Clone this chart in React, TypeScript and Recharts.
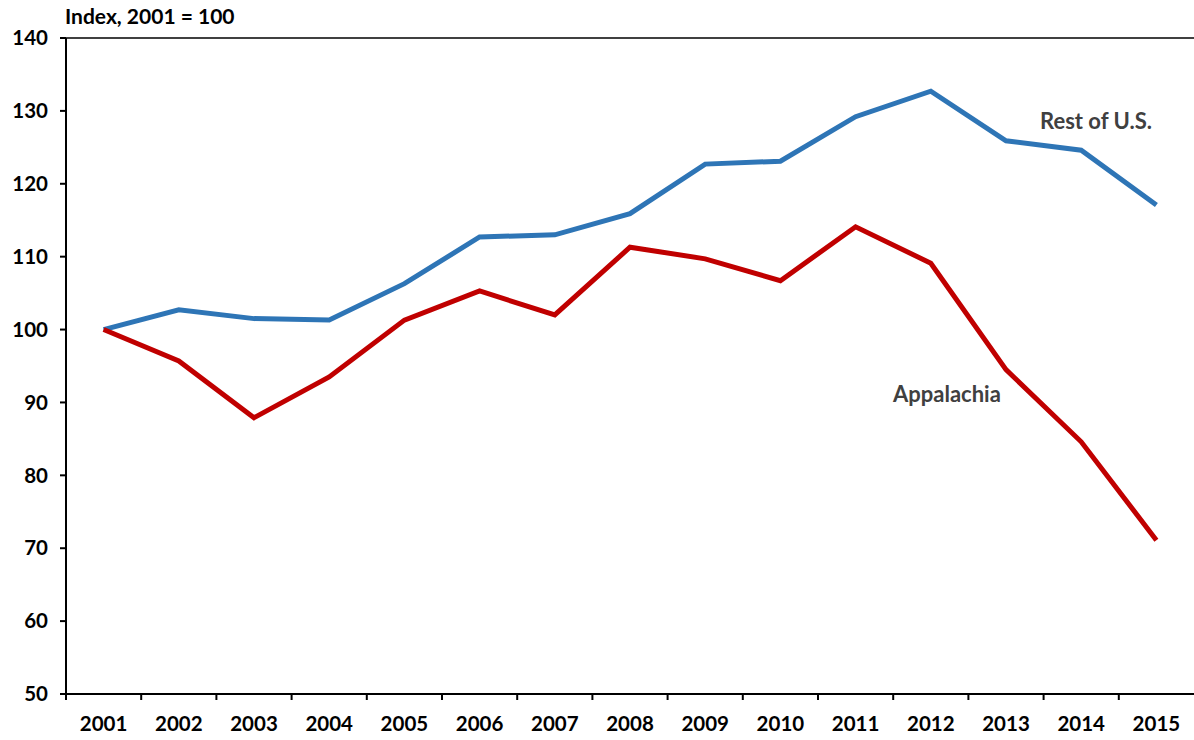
import { LineChart, Line, XAxis, YAxis, ReferenceLine } from "recharts"

const years = [
    "2001", "2002", "2003", "2004", "2005", "2006", "2007", "2008",
    "2009", "2010", "2011", "2012", "2013", "2014", "2015",
]
const restOfUS = [100, 102.7, 101.5, 101.3, 106.3, 112.7, 113.0, 115.9, 122.7, 123.1, 129.2, 132.7, 125.9, 124.6, 117.1]
const appalachia = [100, 95.7, 87.9, 93.5, 101.3, 105.3, 102.0, 111.3, 109.7, 106.7, 114.1, 109.1, 94.5, 84.6, 71.1]
const yTicks = [50, 60, 70, 80, 90, 100, 110, 120, 130, 140]

const FONT = "Lato, 'Open Sans', sans-serif"
const BLUE = "#2E75B6"
const RED = "#C00000"

const data = years.map((year, i) => ({
    year,
    rest: restOfUS[i],
    app: appalachia[i],
}))

// category label at band centre, tick mark at the band's left edge (Excel style)
const YearTick = (props: any) => {
    const { x, y, payload } = props
    const off = payload?.offset ?? 0
    return (
        <g>
            <line x1={x - off} x2={x - off} y1={y - 6} y2={y} stroke="#000" strokeWidth={2} />
            <text
                x={x}
                y={y + 31}
                textAnchor="middle"
                fontFamily={FONT}
                fontSize={20.5}
                fontWeight="bold"
                fill="#000"
            >
                {payload.value}
            </text>
        </g>
    )
}

export default function App() {
    return (
        <div style={{ position: "absolute", left: 0, top: 0, width: 1194, height: 740, background: "#fff", fontFamily: FONT }}>
            <div
                style={{
                    position: "absolute",
                    left: 65,
                    top: 3,
                    fontSize: 21,
                    fontWeight: "bold",
                    color: "#000",
                    whiteSpace: "nowrap",
                }}
            >
                Index, 2001 = 100
            </div>
            <div
                style={{
                    position: "absolute",
                    left: 1040,
                    top: 107,
                    fontSize: 22,
                    fontWeight: "bold",
                    color: "#404040",
                    whiteSpace: "nowrap",
                }}
            >
                Rest of U.S.
            </div>
            <div
                style={{
                    position: "absolute",
                    left: 893,
                    top: 380,
                    fontSize: 22,
                    fontWeight: "bold",
                    color: "#404040",
                    whiteSpace: "nowrap",
                }}
            >
                Appalachia
            </div>
            <LineChart
                width={1194}
                height={740}
                data={data}
                margin={{ top: 38, right: 0, bottom: 0, left: 0 }}
            >
                <XAxis
                    dataKey="year"
                    scale="band"
                    height={46}
                    interval={0}
                    tickSize={6}
                    tickMargin={0}
                    tickLine={false}
                    axisLine={{ stroke: "#000", strokeWidth: 2 }}
                    tick={<YearTick />}
                />
                <YAxis
                    width={66}
                    domain={[50, 140]}
                    ticks={yTicks}
                    interval={0}
                    tickSize={6}
                    tickMargin={12}
                    axisLine={{ stroke: "#000", strokeWidth: 2 }}
                    tickLine={{ stroke: "#000", strokeWidth: 2 }}
                    tick={{ fontSize: 20.5, fontWeight: "bold", fill: "#000", fontFamily: FONT }}
                />
                <ReferenceLine y={140} stroke="#000" strokeWidth={1.5} />
                <Line
                    dataKey="rest"
                    stroke={BLUE}
                    strokeWidth={5}
                    dot={false}
                    isAnimationActive={false}
                />
                <Line
                    dataKey="app"
                    stroke={RED}
                    strokeWidth={5}
                    dot={false}
                    isAnimationActive={false}
                />
            </LineChart>
        </div>
    )
}
